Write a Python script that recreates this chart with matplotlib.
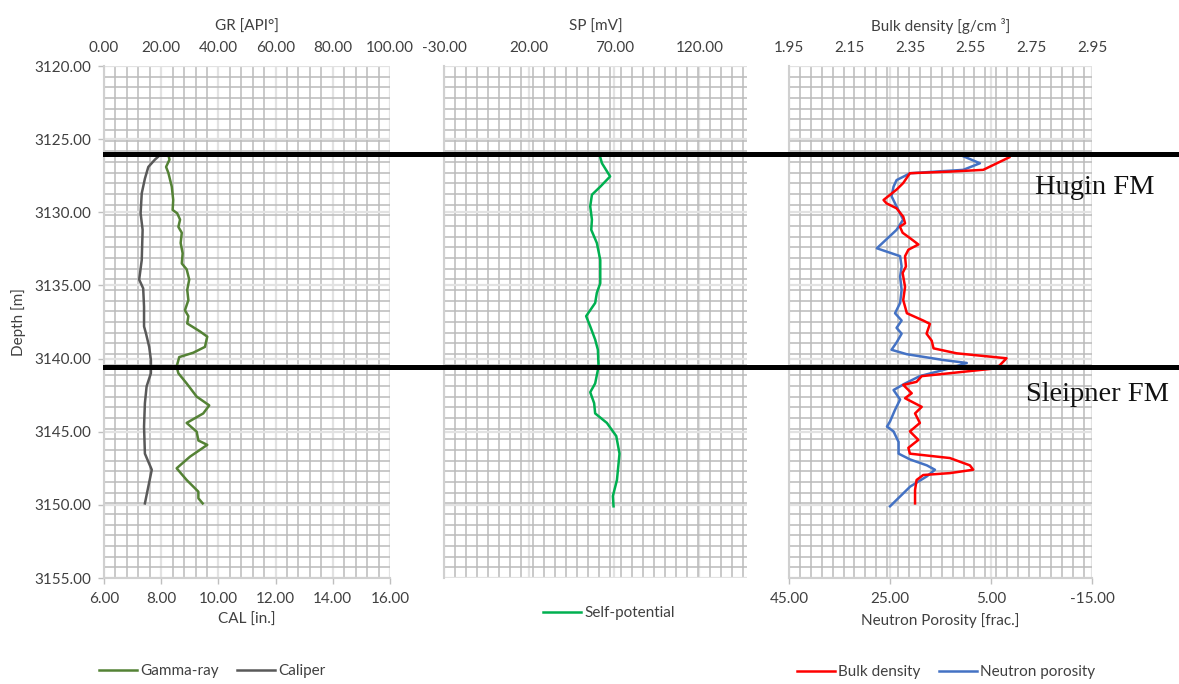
"""Well log panels: GR/CAL, SP, RHOB/NPHI with formation tops."""
import matplotlib.pyplot as plt
import matplotlib.transforms as mtransforms
from matplotlib.lines import Line2D
from matplotlib.ticker import MultipleLocator, FormatStrFormatter

# Gamma-ray (API) vs depth
gr_depth = [3126.08, 3126.4, 3126.9, 3127.3, 3128.25, 3129.16, 3129.84, 3130.07,
            3130.5, 3131.0, 3131.4, 3132.1, 3132.8, 3133.5, 3133.9, 3134.6,
            3135.3, 3136.0, 3136.7, 3137.1, 3137.6, 3138.15, 3138.5, 3139.2,
            3139.6, 3139.9, 3140.55, 3141.0, 3141.7, 3142.6, 3143.2, 3143.75,
            3144.4, 3145.0, 3145.6, 3145.9, 3146.7, 3147.5, 3148.3, 3149.1,
            3149.55, 3149.9]
gr_api = [22.5, 22.9, 21.7, 22.5, 23.7, 24.2, 24.0, 25.6,
          26.6, 26.0, 27.2, 26.8, 27.5, 27.2, 28.9, 29.8,
          29.1, 29.5, 28.3, 29.5, 29.1, 33.6, 36.1, 35.3,
          31.2, 26.3, 25.4, 26.0, 28.9, 32.4, 36.8, 34.7,
          28.9, 32.4, 33.0, 36.1, 30.1, 25.4, 28.9, 33.0,
          33.0, 34.5]

# Caliper (in.) vs depth
cal_depth = [3126.08, 3126.4, 3126.9, 3127.7, 3128.7, 3130.07, 3131.2, 3133.26,
             3134.6, 3135.2, 3136.45, 3137.8, 3138.3, 3139.2, 3140.1, 3141.0,
             3141.9, 3143.05, 3144.65, 3146.5, 3147.6, 3148.75, 3149.9]
cal_in = [7.96, 7.78, 7.55, 7.43, 7.32, 7.28, 7.35, 7.32,
          7.23, 7.37, 7.40, 7.40, 7.47, 7.58, 7.64, 7.64,
          7.49, 7.43, 7.40, 7.43, 7.67, 7.55, 7.43]

# Self-potential (mV) vs depth
sp_depth = [3126.08, 3126.65, 3127.55, 3128.25, 3128.8, 3129.6, 3130.5, 3131.2,
            3132.1, 3133.26, 3134.85, 3135.5, 3136.2, 3137.1, 3137.8, 3138.7,
            3139.4, 3140.55, 3141.7, 3142.3, 3143.05, 3143.75, 3144.4, 3145.3,
            3146.5, 3148.3, 3149.4, 3150.1]
sp_mv = [61.4, 62.8, 67.6, 61.8, 56.9, 55.9, 56.9, 56.5,
         59.8, 61.8, 61.8, 59.8, 58.8, 53.5, 55.9, 58.8,
         60.4, 60.8, 58.8, 55.9, 58.2, 58.8, 65.7, 71.2,
         73.1, 71.6, 69.2, 69.6]

# Bulk density (g/cm3) vs depth
rhob_depth = [3126.24, 3126.65, 3127.1, 3127.22, 3127.33, 3128.0, 3128.45, 3129.16,
              3129.39, 3129.73, 3130.3, 3130.75, 3130.98, 3131.4, 3131.76, 3132.2,
              3132.56, 3133.0, 3133.7, 3134.15, 3135.1, 3136.0, 3136.9, 3137.4,
              3137.63, 3138.3, 3138.78, 3139.3, 3139.64, 3139.98, 3140.66, 3141.0,
              3141.2, 3141.59, 3141.8, 3142.37, 3142.71, 3143.3, 3143.75, 3144.4,
              3144.98, 3145.56, 3146.1, 3146.5, 3146.8, 3147.3, 3147.6, 3147.83,
              3147.96, 3148.3, 3148.98, 3149.9]
rhob = [2.677, 2.636, 2.591, 2.481, 2.349, 2.327, 2.305, 2.262,
        2.272, 2.305, 2.327, 2.333, 2.316, 2.325, 2.349, 2.377,
        2.344, 2.333, 2.336, 2.325, 2.333, 2.327, 2.339, 2.393,
        2.415, 2.404, 2.421, 2.427, 2.503, 2.668, 2.636, 2.481,
        2.388, 2.371, 2.327, 2.355, 2.333, 2.388, 2.366, 2.382,
        2.349, 2.377, 2.344, 2.349, 2.481, 2.547, 2.558, 2.481,
        2.393, 2.371, 2.366, 2.366]

# Neutron porosity vs depth
nphi_depth = [3126.08, 3126.65, 3127.1, 3127.33, 3127.8, 3128.25, 3128.9, 3129.6,
              3130.5, 3131.2, 3132.46, 3133.0, 3133.7, 3134.4, 3135.3, 3136.2,
              3136.9, 3137.4, 3137.9, 3138.3, 3138.9, 3139.4, 3139.7, 3140.1,
              3140.3, 3140.66, 3141.2, 3141.7, 3142.15, 3142.8, 3143.5, 3144.3,
              3144.65, 3144.98, 3145.7, 3146.5, 3146.9, 3147.3, 3147.6, 3148.05,
              3148.75, 3150.1]
nphi = [11.1, 7.2, 10.5, 21.0, 23.7, 24.3, 24.7, 23.7,
        22.4, 23.7, 27.6, 23.0, 22.7, 23.0, 22.7, 23.0,
        24.0, 22.7, 23.7, 22.7, 23.7, 24.7, 21.7, 14.4,
        9.8, 13.1, 19.1, 22.0, 24.3, 23.0, 24.0, 25.0,
        25.6, 24.3, 23.3, 23.3, 21.0, 17.7, 16.1, 17.7,
        21.0, 25.0]

tops_depth = [3126.0, 3140.55]
tops_names = ['Hugin FM', 'Sleipner FM']

W, H = 1179, 684
TXT = '#404040'
MINOR_C = '#BBBBBB'
MAJOR_C = '#E2E2E2'
plt.rcParams['font.family'] = ['Lato', 'DejaVu Sans']
plt.rcParams['font.size'] = 11

fig = plt.figure(figsize=(W / 100, H / 100), dpi=100)


def box(left, right, top=66, bottom=578):
    return [left / W, 1 - bottom / H, (right - left) / W, (bottom - top) / H]


def style(ax, xminor, xoff):
    ax.set_ylim(3155, 3120)
    ax.yaxis.set_major_locator(MultipleLocator(5))
    ax.yaxis.set_minor_locator(MultipleLocator(35 / 48, offset=3120))
    ax.xaxis.set_minor_locator(MultipleLocator(xminor, offset=xoff))
    ax.grid(which='minor', color=MINOR_C, lw=1.1)
    ax.grid(which='major', color=MAJOR_C, lw=1.6)
    ax.set_axisbelow(True)
    for s in ax.spines.values():
        s.set_visible(False)
    ax.spines['left'].set_visible(True)
    ax.spines['left'].set_color('#D0D0D0')
    ax.spines['left'].set_linewidth(1.5)
    ax.tick_params(which='minor', length=0)
    ax.tick_params(which='major', colors='#BFBFBF', labelcolor=TXT,
                   length=4, width=1)


# --- Panel 1: GR / CAL ---
ax1 = fig.add_axes(box(104, 390))
ax1.set_xlim(6, 16)
ax1.xaxis.set_major_locator(MultipleLocator(2))
style(ax1, 0.4, 6)
ax1.spines['bottom'].set_visible(True)
ax1.spines['bottom'].set_color('#D0D0D0')
ax1.spines['bottom'].set_linewidth(1.5)
ax1.xaxis.set_major_formatter(FormatStrFormatter('%.2f'))
ax1.yaxis.set_major_formatter(FormatStrFormatter('%.2f'))
ax1.tick_params(axis='y', pad=5)
ax1.tick_params(axis='x', pad=6)
ax1.set_xlabel('CAL [in.]', color=TXT, labelpad=5)
ax1.set_ylabel('Depth [m]', color=TXT, labelpad=6)
cal_line, = ax1.plot(cal_in, cal_depth, color='#595959', lw=1.8,
                     solid_joinstyle='round')

ax1t = ax1.twiny()
ax1t.set_xlim(0, 100)
ax1t.xaxis.set_major_locator(MultipleLocator(20))
ax1t.xaxis.set_major_formatter(FormatStrFormatter('%.2f'))
for s in ax1t.spines.values():
    s.set_visible(False)
ax1t.tick_params(axis='x', length=0, pad=8, labelcolor=TXT)
ax1t.set_xlabel('GR [API°]', color=TXT, labelpad=7)
gr_line, = ax1t.plot(gr_api, gr_depth, color='#548235', lw=1.8,
                     solid_joinstyle='round')

# --- Panel 2: SP ---
ax2 = fig.add_axes(box(444, 747))
ax2.set_xlim(-30, 148)
ax2.xaxis.set_major_locator(MultipleLocator(50, offset=20))
style(ax2, 6.5, -30)
ax2.xaxis.set_ticks_position('top')
ax2.xaxis.set_label_position('top')
ax2.xaxis.set_major_formatter(FormatStrFormatter('%.2f'))
ax2.tick_params(axis='x', length=0, pad=8)
ax2.tick_params(axis='y', length=0, labelleft=False)
ax2.set_xlabel('SP [mV]', color=TXT, labelpad=7)
sp_line, = ax2.plot(sp_mv, sp_depth, color='#00B050', lw=1.8,
                    solid_joinstyle='round')

# --- Panel 3: RHOB / NPHI ---
ax3 = fig.add_axes(box(789, 1092))
ax3.set_xlim(45, -15)
ax3.xaxis.set_major_locator(MultipleLocator(20, offset=5))
style(ax3, 2.16, 45)
ax3.spines['bottom'].set_visible(True)
ax3.spines['bottom'].set_color('#D0D0D0')
ax3.spines['bottom'].set_linewidth(1.5)
ax3.xaxis.set_major_formatter(FormatStrFormatter('%.2f'))
ax3.tick_params(axis='x', pad=6)
ax3.tick_params(axis='y', length=0, labelleft=False)
ax3.set_xlabel('Neutron Porosity [frac.]', color=TXT, labelpad=5)
nphi_line, = ax3.plot(nphi, nphi_depth, color='#4472C4', lw=1.8,
                      solid_joinstyle='round')

ax3t = ax3.twiny()
ax3t.set_xlim(1.95, 2.95)
ax3t.set_xticks([1.95, 2.15, 2.35, 2.55, 2.75, 2.95])
ax3t.xaxis.set_major_formatter(FormatStrFormatter('%.2f'))
for s in ax3t.spines.values():
    s.set_visible(False)
ax3t.tick_params(axis='x', length=0, pad=8, labelcolor=TXT)
ax3t.set_xlabel('Bulk density [g/cm ³]', color=TXT, labelpad=7)
rhob_line, = ax3t.plot(rhob, rhob_depth, color='#FF0000', lw=1.8,
                       solid_joinstyle='round')

# --- Formation tops ---
trans = mtransforms.blended_transform_factory(fig.transFigure, ax1.transData)
for d in tops_depth:
    fig.add_artist(Line2D([105 / W, 1.0], [d, d], transform=trans,
                          color='black', lw=3.6, zorder=5))
fig.text(1035 / W, 1 - 194 / H, tops_names[0], family='Liberation Serif',
         size=20.5, va='baseline', color='#111111')
fig.text(1026 / W, 1 - 401 / H, tops_names[1], family='Liberation Serif',
         size=20.5, va='baseline', color='#111111')

# --- Legends ---
leg_kw = dict(frameon=False, handlelength=2.5, handletextpad=0.2,
              columnspacing=1.2, labelcolor=TXT, borderaxespad=0)
fig.legend([gr_line, cal_line], ['Gamma-ray', 'Caliper'], ncol=2,
           loc='center', bbox_to_anchor=(212 / W, 1 - 671 / H), **leg_kw)
fig.legend([sp_line], ['Self-potential'], ncol=1,
           loc='center', bbox_to_anchor=(609 / W, 1 - 613 / H), **leg_kw)
fig.legend([rhob_line, nphi_line], ['Bulk density', 'Neutron porosity'],
           ncol=2, loc='center', bbox_to_anchor=(946 / W, 1 - 672 / H),
           **leg_kw)

fig.savefig('out.png', dpi=100)
